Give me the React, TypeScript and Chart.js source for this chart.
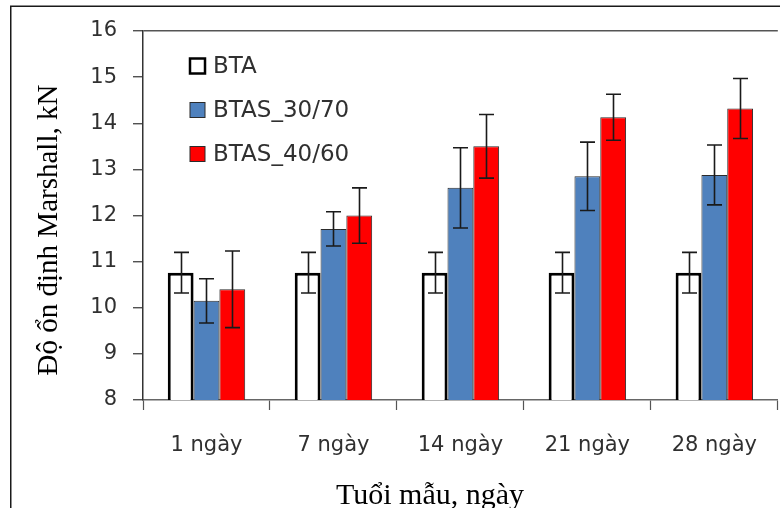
import React, { useEffect, useRef } from "react";
import { Chart, registerables } from "chart.js";

Chart.register(...registerables);

const categories = ["1 ngày", "7 ngày", "14 ngày", "21 ngày", "28 ngày"];
const seriesNames = ["BTA", "BTAS_30/70", "BTAS_40/60"];
const btaValues = [10.76, 10.76, 10.76, 10.76, 10.76];
const btaErrors = [0.44, 0.44, 0.44, 0.44, 0.44];
const btas3070Values = [10.15, 11.71, 12.6, 12.85, 12.88];
const btas3070Errors = [0.48, 0.37, 0.87, 0.74, 0.65];
const btas4060Values = [10.4, 12.0, 13.5, 14.13, 14.32];
const btas4060Errors = [0.83, 0.6, 0.69, 0.5, 0.65];
const yTicks = [8, 9, 10, 11, 12, 13, 14, 15, 16];
const yTitle = "Độ ổn định Marshall, kN";
const xTitle = "Tuổi mẫu, ngày";

const errorsByDataset = [btaErrors, btas3070Errors, btas4060Errors];
const fills = ["#ffffff", "#4F81BD", "#FF0000"];
const borders = ["#000000", "#2b2b2b", "#2b2b2b"];
const borderWidths = [3, 1, 1];

const TICK_FONT = '"DejaVu Sans", sans-serif';
const SERIF = '"Liberation Serif", "Times New Roman", serif';

const framePlugin = {
  id: "frame",
  beforeDraw(chart: any) {
    const ctx = chart.ctx;
    ctx.save();
    ctx.fillStyle = "#ffffff";
    ctx.fillRect(0, 0, chart.width, chart.height);
    ctx.strokeStyle = "#1a1a1a";
    ctx.lineWidth = 1.5;
    ctx.beginPath();
    ctx.moveTo(10.75, chart.height + 10);
    ctx.lineTo(10.75, 6.25);
    ctx.lineTo(chart.width + 10, 6.25);
    ctx.stroke();
    ctx.restore();
  },
};

const errorBarPlugin = {
  id: "errorBars",
  afterDatasetsDraw(chart: any) {
    const ctx = chart.ctx;
    const yScale = chart.scales.y;
    ctx.save();
    ctx.strokeStyle = "#1a1a1a";
    ctx.lineWidth = 1.6;
    chart.data.datasets.forEach((ds: any, i: number) => {
      const meta = chart.getDatasetMeta(i);
      const errs = errorsByDataset[i];
      meta.data.forEach((el: any, j: number) => {
        const v = ds.data[j];
        const e = errs[j];
        const x = Math.round(el.x) + 0.5;
        const yTop = yScale.getPixelForValue(v + e);
        const yBot = yScale.getPixelForValue(v - e);
        const cap = 7.5;
        ctx.beginPath();
        ctx.moveTo(x, yTop);
        ctx.lineTo(x, yBot);
        ctx.moveTo(x - cap, yTop);
        ctx.lineTo(x + cap, yTop);
        ctx.moveTo(x - cap, yBot);
        ctx.lineTo(x + cap, yBot);
        ctx.stroke();
      });
    });
    ctx.restore();
  },
};

const legendAndTitles = {
  id: "legendAndTitles",
  afterDraw(chart: any) {
    const ctx = chart.ctx;
    ctx.save();
    // legend
    const ys = [66, 110, 154];
    seriesNames.forEach((name, i) => {
      const cy = ys[i];
      const bx = 190;
      const size = 15;
      ctx.fillStyle = fills[i];
      ctx.fillRect(bx, cy - size / 2, size, size);
      ctx.strokeStyle = borders[i];
      ctx.lineWidth = i === 0 ? 2.5 : 1;
      ctx.strokeRect(bx, cy - size / 2, size, size);
      ctx.fillStyle = "#303030";
      ctx.font = `23px ${TICK_FONT}`;
      ctx.textAlign = "left";
      ctx.textBaseline = "middle";
      ctx.fillText(name, 213, cy + 1);
    });
    // y title
    ctx.fillStyle = "#000000";
    ctx.font = `29px ${SERIF}`;
    ctx.save();
    ctx.translate(57, 230);
    ctx.rotate(-Math.PI / 2);
    ctx.textAlign = "center";
    ctx.textBaseline = "alphabetic";
    ctx.fillText(yTitle, 0, 0);
    ctx.restore();
    // x title
    ctx.font = `30px ${SERIF}`;
    ctx.textAlign = "center";
    ctx.textBaseline = "alphabetic";
    ctx.fillText(xTitle, 430, 504);
    ctx.restore();
  },
};

export default function App() {
  const canvasRef = useRef<HTMLCanvasElement | null>(null);

  useEffect(() => {
    document.body.style.margin = "0";
    const canvas = canvasRef.current;
    if (!canvas) return;
    const values = [btaValues, btas3070Values, btas4060Values];
    const chart = new Chart(canvas, {
      type: "bar",
      data: {
        labels: categories,
        datasets: seriesNames.map((name, i) => ({
          label: name,
          data: values[i],
          backgroundColor: fills[i],
          borderColor: borders[i],
          borderWidth: borderWidths[i],
          borderSkipped: i === 0 ? false : "bottom",
          categoryPercentage: 0.61,
          barPercentage: 1.0,
        })),
      },
      options: {
        responsive: false,
        animation: false,
        devicePixelRatio: 1,
        layout: { padding: { left: 0, right: 0, top: 31, bottom: 0 } },
        plugins: {
          legend: { display: false },
          tooltip: { enabled: false },
          title: { display: false },
        },
        scales: {
          x: {
            offset: true,
            grid: {
              offset: true,
              drawOnChartArea: false,
              drawTicks: true,
              tickLength: 10,
              tickColor: "#555555",
              tickWidth: 1.2,
            },
            border: { color: "#666666", width: 1.5 },
            ticks: {
              color: "#303030",
              font: { family: TICK_FONT, size: 21 },
              padding: 23,
              maxRotation: 0,
              autoSkip: false,
            },
            afterFit(scale: any) {
              scale.height = 108;
            },
          },
          y: {
            min: 8,
            max: 16,
            afterBuildTicks(scale: any) {
              scale.ticks = yTicks.map((v) => ({ value: v }));
            },
            grid: {
              color: (c: any) => (c.tick && c.tick.value === 16 ? "#555555" : "rgba(0,0,0,0)"),
              lineWidth: 1.5,
              drawTicks: true,
              tickLength: 10,
              tickColor: "#333333",
              tickWidth: 1.2,
            },
            border: { color: "#333333", width: 1.5 },
            ticks: {
              color: "#303030",
              font: { family: TICK_FONT, size: 21 },
              padding: 16,
            },
            afterFit(scale: any) {
              scale.width = 143;
            },
          },
        },
      },
      plugins: [framePlugin, errorBarPlugin, legendAndTitles],
    } as any);
    return () => chart.destroy();
  }, []);

  return (
    <div style={{ position: "absolute", left: 0, top: 0, width: 780, height: 508 }}>
      <canvas ref={canvasRef} width={780} height={508} style={{ display: "block" }} />
    </div>
  );
}
